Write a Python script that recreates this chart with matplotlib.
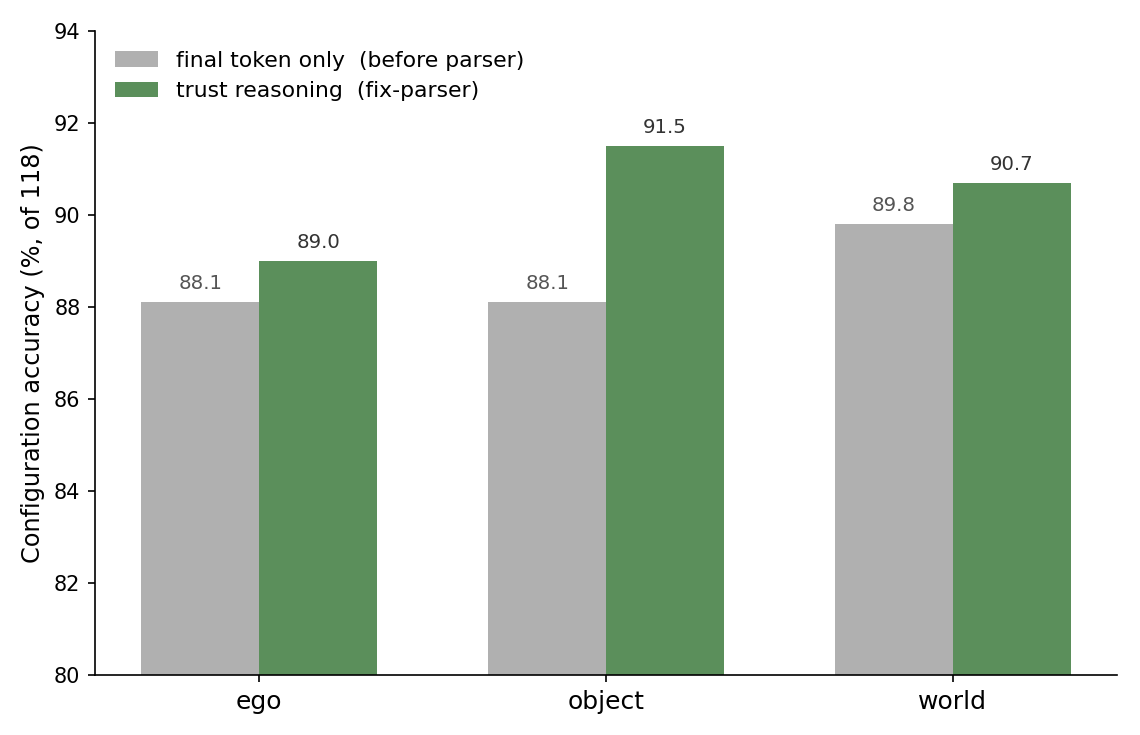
import numpy as np
import matplotlib.pyplot as plt

categories = ["ego", "object", "world"]
before_parser = [88.1, 88.1, 89.8]
fix_parser = [89.0, 91.5, 90.7]
series_labels = ["final token only  (before parser)", "trust reasoning  (fix-parser)"]


def plotBars():
    fig, ax = plt.subplots(figsize=(7.6, 4.9), dpi=150)
    fig.subplots_adjust(left=0.0833, right=0.98, top=0.958, bottom=0.0816)

    x = np.arange(len(categories))
    w = 0.34
    b1 = ax.bar(x - w / 2, before_parser, w, color="#b0b0b0", label=series_labels[0])
    b2 = ax.bar(x + w / 2, fix_parser, w, color="#5b8f5b", label=series_labels[1])

    for rect, v in zip(b1, before_parser):
        ax.text(rect.get_x() + rect.get_width() / 2, v + 0.2, f"{v:.1f}",
                ha="center", va="bottom", fontsize=9.5, color="#555555")
    for rect, v in zip(b2, fix_parser):
        ax.text(rect.get_x() + rect.get_width() / 2, v + 0.2, f"{v:.1f}",
                ha="center", va="bottom", fontsize=9.5, color="#333333")

    ax.set_ylim(80, 94)
    ax.set_xticks(x)
    ax.set_xticklabels(categories, fontsize=12)
    ax.tick_params(axis="y", labelsize=10)
    ax.set_ylabel("Configuration accuracy (%, of 118)", fontsize=11.5)
    ax.spines["top"].set_visible(False)
    ax.spines["right"].set_visible(False)
    ax.legend(loc="upper left", frameon=False, fontsize=10.5)

    fig.savefig("out.png", dpi=150)


plotBars()
